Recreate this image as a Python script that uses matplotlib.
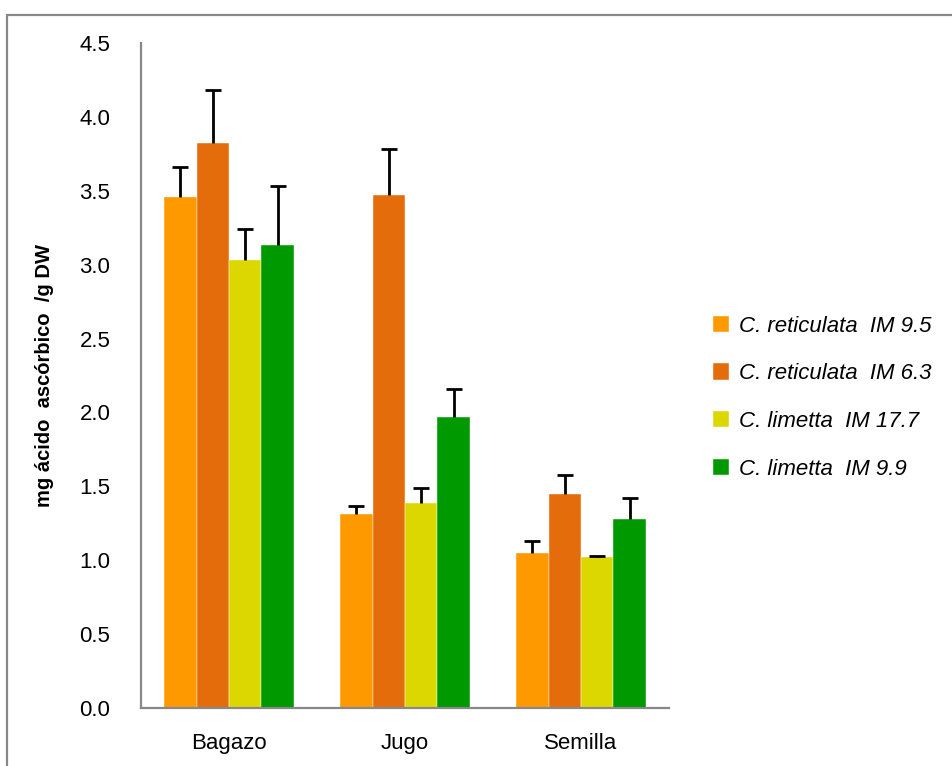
import numpy as np
import matplotlib.pyplot as plt
from matplotlib.patches import Rectangle

# Contenido de ácido ascórbico por tejido y variedad
tejidos = ['Bagazo', 'Jugo', 'Semilla']
variedades = ['C. reticulata  IM 9.5', 'C. reticulata  IM 6.3',
              'C. limetta  IM 17.7', 'C. limetta  IM 9.9']
colores = ['#FF9900', '#E46C0A', '#DDD700', '#009900']

reticulata_95 = [3.46, 1.31, 1.05]
reticulata_63 = [3.82, 3.47, 1.45]
limetta_177 = [3.03, 1.39, 1.02]
limetta_99 = [3.13, 1.97, 1.28]

err_reticulata_95 = [0.20, 0.06, 0.08]
err_reticulata_63 = [0.36, 0.31, 0.13]
err_limetta_177 = [0.21, 0.10, 0.01]
err_limetta_99 = [0.40, 0.19, 0.14]

series = [reticulata_95, reticulata_63, limetta_177, limetta_99]
errores = [err_reticulata_95, err_reticulata_63, err_limetta_177, err_limetta_99]

fuente = 'Liberation Sans'

fig = plt.figure(figsize=(9.53, 7.66), dpi=100)
ax = fig.add_axes([141/953, 58/766, 528/953, 665/766])

x = np.arange(len(tejidos))
ancho = 0.184
for i, (vals, errs) in enumerate(zip(series, errores)):
    pos = x + (i - 1.5) * ancho
    ax.bar(pos, vals, ancho, color=colores[i], label=variedades[i],
           edgecolor='white', linewidth=0.3)
    eb = ax.errorbar(pos, vals, yerr=[np.zeros(len(errs)), errs], fmt='none',
                     ecolor='black', elinewidth=2, capsize=5.5, capthick=2)
    # solo la barra superior lleva tapa
    eb[1][0].set_visible(False)

ax.set_xlim(-0.5, 2.5)
ax.set_ylim(0, 4.5)
ax.set_yticks(np.arange(0, 4.51, 0.5))
ax.set_yticklabels([f'{v:.1f}' for v in np.arange(0, 4.51, 0.5)],
                   fontsize=16, family=fuente)
ax.set_xticks(x)
ax.set_xticklabels(tejidos, fontsize=16, family=fuente)
ax.tick_params(axis='y', length=0, pad=22)
ax.tick_params(axis='x', length=0, pad=18)

for lado in ['top', 'right']:
    ax.spines[lado].set_visible(False)
for lado in ['left', 'bottom']:
    ax.spines[lado].set_color('#888888')
    ax.spines[lado].set_linewidth(1.6)

ax.set_ylabel('mg ácido  ascórbico  /g DW', fontsize=14.5, fontweight='bold',
              family=fuente)
ax.yaxis.set_label_coords(-0.165, 0.5)

leg = ax.legend(loc='upper left', bbox_to_anchor=(1.045, 0.62), frameon=False,
                prop={'family': fuente, 'style': 'italic', 'size': 16},
                handlelength=0.75, handleheight=0.75, handletextpad=0.45,
                labelspacing=1.2)

# marco exterior gris
fig.patches.append(Rectangle((7/953, -0.1), 1.2, (766 - 15)/766 + 0.1,
                             transform=fig.transFigure, fill=False,
                             edgecolor='#888888', linewidth=1.6))

fig.savefig('out.png', dpi=100)
